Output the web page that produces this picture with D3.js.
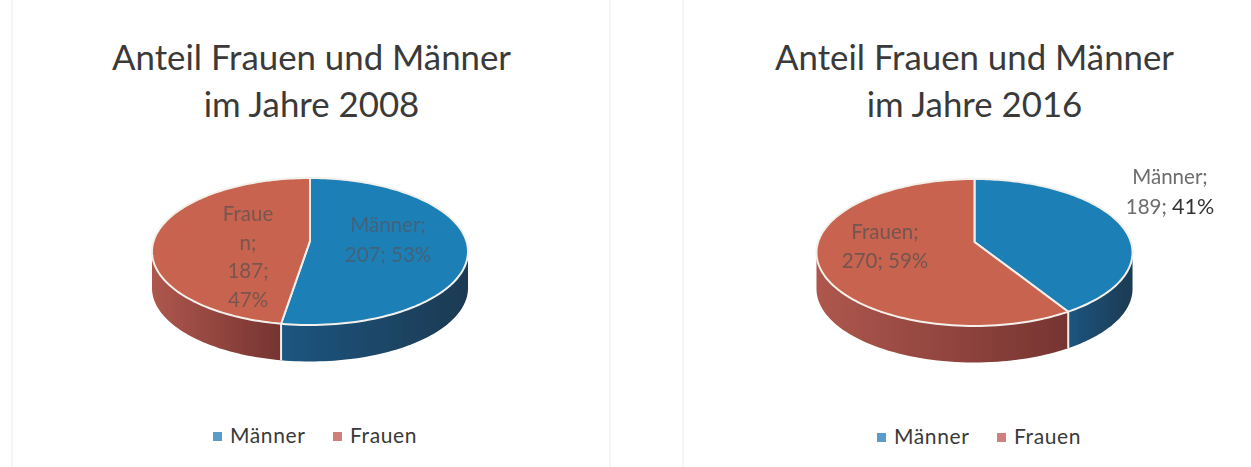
<!DOCTYPE html>
<html>
  <head>
    <meta charset="utf-8">
    <title>Anteil Frauen und Männer</title>
    <style>
      html, body { margin: 0; padding: 0; background: #fff; }
      svg { display: block; font-family: Lato, "Open Sans", sans-serif; }
    </style>
  </head>
  <body>
  </body>

  <script src="https://d3js.org/d3.v7.min.js" charset="utf-8"></script>
  <script type="text/javascript">

// values
var categories = ['Männer', 'Frauen'];
var years = [2008, 2016];
var values2008 = [207, 187];
var values2016 = [189, 270];
var shares2008 = ['53%', '47%'];
var shares2016 = ['41%', '59%'];

var w = 1251, h = 467;

var topColor = d3.scaleOrdinal().domain(categories).range(['#1f80b6', '#c8644f']);
var legendColor = d3.scaleOrdinal().domain(categories).range(['#5b9bc9', '#d0807a']);

var svg = d3.select('body').append('svg')
    .attr('width', w)
    .attr('height', h);

// faint edges of the scanned chart frames
[12, 610, 683].forEach(function(x){
  svg.append('line')
     .attr('x1', x).attr('x2', x)
     .attr('y1', 0).attr('y2', h)
     .style('stroke', '#f5f5f5')
     .style('stroke-width', 2);
});

// side wall shading, left to right, one gradient per slice
var defs = svg.append('defs');
function gradient(id, from, to){
  var g = defs.append('linearGradient').attr('id', id);
  g.append('stop').attr('offset', '0%').attr('stop-color', from);
  g.append('stop').attr('offset', '100%').attr('stop-color', to);
}
gradient('side-Männer', '#1a5580', '#1b3a52');
gradient('side-Frauen', '#ae574d', '#763431');

var blur = defs.append('filter').attr('id', 'scan');
blur.append('feGaussianBlur').attr('stdDeviation', 0.6);

// the pie lies tilted and is seen in perspective, so its centre
// does not sit in the middle of the drawn ellipse
var radiusX = 156.4, radiusY = 72, tilt = 1 / 7, depth = 36.5;

function project(cx, cy, angle){
  var u = Math.sin(angle), v = -Math.cos(angle);
  var s = 1 / (1 - tilt * v);
  return [cx + radiusX * u * s, cy + radiusY * v * s];
}

var line = d3.line();

function drawPie(cfg){
  var g = svg.append('g').attr('filter', 'url(#scan)');

  var slices = d3.pie().sort(null)(cfg.values);

  // back limit of the visible wall: the widest points of the ellipse
  var wallStart = Math.PI - Math.acos(tilt);
  var wallEnd = Math.PI + Math.acos(tilt);

  slices.forEach(function(d, i){
    var from = Math.max(d.startAngle, wallStart);
    var to = Math.min(d.endAngle, wallEnd);
    if (to <= from) return;
    var upper = d3.range(0, 61).map(function(k){
      return project(cfg.cx, cfg.cy, from + (to - from) * k / 60);
    });
    var lower = upper.slice().reverse().map(function(p){
      return [p[0], p[1] + depth];
    });
    g.append('path')
     .attr('d', line(upper.concat(lower)) + 'Z')
     .style('fill', 'url(#side-' + categories[i] + ')');
  });

  // white seam down the wall where the slices meet
  var seam = project(cfg.cx, cfg.cy, slices[0].endAngle);
  g.append('line')
   .attr('x1', seam[0]).attr('x2', seam[0])
   .attr('y1', seam[1]).attr('y2', seam[1] + depth)
   .style('stroke', '#f4f1ec')
   .style('stroke-width', 2);

  // top faces
  slices.forEach(function(d, i){
    var rim = d3.range(0, 121).map(function(k){
      return project(cfg.cx, cfg.cy, d.startAngle + (d.endAngle - d.startAngle) * k / 120);
    });
    g.append('path')
     .attr('d', line([[cfg.cx, cfg.cy]].concat(rim)) + 'Z')
     .style('fill', topColor(categories[i]))
     .style('stroke', '#f4f1ec')
     .style('stroke-width', 2)
     .style('stroke-linejoin', 'round');
  });

  // labels
  cfg.labels.forEach(function(l){
    var t = g.append('text')
     .attr('text-anchor', 'middle')
     .style('font-size', l.size + 'px')
     .style('fill', l.color);
    l.lines.forEach(function(s, k){
      t.append('tspan')
       .attr('x', l.x)
       .attr('y', l.y + k * l.step)
       .text(s);
    });
    if (l.strong) {
      t.append('tspan')
       .style('fill', '#333')
       .style('font-size', (l.size + 1) + 'px')
       .text(l.strong);
    }
  });
}

function drawTitle(cx, year){
  var t = svg.append('text')
     .attr('text-anchor', 'middle')
     .style('font-size', '34.8px')
     .style('fill', '#3a3a3a');
  t.append('tspan').attr('x', cx).attr('y', 70).text('Anteil Frauen und Männer');
  t.append('tspan').attr('x', cx).attr('y', 117).text('im Jahre ' + year);
}

function drawLegend(x, y){
  var offsets = [0, 120];
  var g = svg.append('g');
  categories.forEach(function(c, i){
    g.append('rect')
     .attr('x', x + offsets[i])
     .attr('y', y - 11)
     .attr('width', 9)
     .attr('height', 9)
     .style('fill', legendColor(c));
    g.append('text')
     .attr('x', x + offsets[i] + 17)
     .attr('y', y)
     .style('font-size', '21px')
     .style('letter-spacing', '0.6px')
     .style('fill', '#3a3a3a')
     .text(c);
  });
}

drawTitle(311.5, years[0]);
drawTitle(974.5, years[1]);

drawPie({
  cx: 310, cy: 241, values: values2008,
  labels: [
    {x: 388, y: 232, step: 30, size: 20.5, color: '#41627a',
     lines: [categories[0] + ';', values2008[0] + '; ' + shares2008[0]]},
    {x: 248, y: 221, step: 28.5, size: 20.5, color: '#7a5550',
     lines: ['Fraue', 'n;', values2008[1] + ';', shares2008[1]]}
  ]
});

drawPie({
  cx: 974.5, cy: 242, values: values2016,
  labels: [
    {x: 885, y: 239, step: 29, size: 20.5, color: '#74544f',
     lines: [categories[1] + ';', values2016[1] + '; ' + shares2016[1]]},
    {x: 1170, y: 184, step: 30, size: 20.5, color: '#6d6d6d',
     lines: [categories[0] + ';', values2016[0] + '; '], strong: shares2016[0]}
  ]
});

drawLegend(213, 443);
drawLegend(877, 444);

  </script>
</html>
